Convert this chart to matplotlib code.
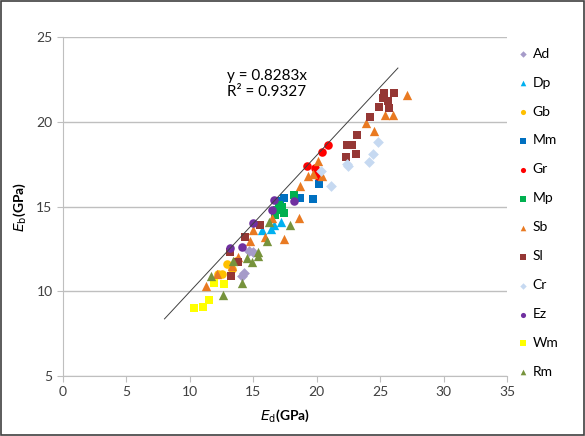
import matplotlib
matplotlib.use("Agg")
import matplotlib.pyplot as plt
from matplotlib.patches import Rectangle

plt.rcParams['font.family'] = ['Lato', 'DejaVu Sans']

# rock groups: Ed (x) and Eb (y), GPa
ad_x = [14.1, 14.3, 14.7, 15.0]
ad_y = [10.9, 11.1, 12.4, 12.3]
dp_x = [15.7, 16.4, 16.6, 17.2]
dp_y = [13.6, 13.7, 13.9, 14.1]
gb_x = [12.25, 12.5, 12.9, 13.3, 13.6]
gb_y = [11.0, 11.0, 11.6, 11.3, 11.8]
mm_x = [17.1, 17.4, 18.7, 19.7, 20.2]
mm_y = [15.3, 15.5, 15.5, 15.45, 16.3]
gr_x = [19.2, 19.9, 20.0, 20.1, 20.4, 20.9]
gr_y = [17.4, 17.3, 17.0, 16.8, 18.2, 18.6]
mp_x = [16.7, 16.9, 17.0, 17.25, 17.4, 18.2]
mp_y = [14.5, 14.8, 15.1, 15.0, 14.6, 15.7]
sb_x = [11.3, 12.1, 13.3, 13.8, 14.75, 15.0, 15.9, 16.5, 17.4, 18.6, 18.7,
        19.35, 19.7, 20.4, 20.1, 23.9, 24.5, 25.4, 26.0, 27.1]
sb_y = [10.3, 11.0, 11.5, 12.0, 12.95, 13.6, 13.2, 14.3, 13.1, 14.3, 16.2,
        16.8, 16.9, 16.8, 17.7, 19.9, 19.45, 20.4, 20.4, 21.6]
sl_x = [13.2, 13.25, 13.8, 14.35, 15.5, 22.3, 22.4, 22.8, 23.1, 23.2, 24.2,
        24.9, 25.2, 25.3, 25.6, 25.7, 26.1]
sl_y = [12.3, 10.9, 11.7, 13.2, 13.9, 17.9, 18.6, 18.6, 18.1, 19.2, 20.3,
        20.9, 21.4, 21.7, 21.2, 20.8, 21.7]
cr_x = [20.3, 21.1, 22.4, 22.5, 24.1, 24.4, 24.8]
cr_y = [17.1, 16.2, 17.5, 17.4, 17.6, 18.1, 18.8]
ez_x = [13.2, 14.1, 15.0, 16.5, 16.6, 18.2]
ez_y = [12.55, 12.6, 14.0, 14.8, 15.4, 15.3]
wm_x = [10.3, 11.0, 11.5, 11.9, 12.7]
wm_y = [9.0, 9.1, 9.5, 10.5, 10.45]
rm_x = [11.7, 12.6, 13.4, 14.1, 14.5, 14.9, 15.4, 15.4, 16.1, 16.2, 17.9]
rm_y = [10.9, 9.8, 11.8, 10.5, 11.95, 11.7, 12.3, 12.1, 12.95, 14.1, 13.9]

# trend line as drawn
line_x = [8.0, 26.4]
line_y = [8.37, 23.17]

series = [
    ("Ad", ad_x, ad_y, "D", "#A69BC9", 30),
    ("Dp", dp_x, dp_y, "^", "#00B0F0", 45),
    ("Gb", gb_x, gb_y, "o", "#FFC000", 38),
    ("Mm", mm_x, mm_y, "s", "#0070C0", 38),
    ("Gr", gr_x, gr_y, "o", "#FF0000", 38),
    ("Mp", mp_x, mp_y, "s", "#00B050", 38),
    ("Sb", sb_x, sb_y, "^", "#E97A22", 45),
    ("Sl", sl_x, sl_y, "s", "#953735", 38),
    ("Cr", cr_x, cr_y, "D", "#C6D9F1", 30),
    ("Ez", ez_x, ez_y, "o", "#7030A0", 38),
    ("Wm", wm_x, wm_y, "s", "#FFFF00", 38),
    ("Rm", rm_x, rm_y, "^", "#77933C", 45),
]

fig = plt.figure(figsize=(5.85, 4.36), dpi=100)
ax = fig.add_axes([0.1077, 0.1376, 0.759, 0.7775])

for name, xs, ys, mk, col, s in series:
    ax.scatter(xs, ys, marker=mk, s=s, color=col, linewidths=0, label=name, zorder=3)

ax.plot(line_x, line_y, color="#404040", lw=0.7, zorder=4)

ax.text(12.95, 21.35, "y = 0.8283x\nR² = 0.9327", fontsize=11, color="black",
        va="bottom", ha="left", linespacing=1.15)

ax.set_xlim(0, 35)
ax.set_ylim(5, 25)
ax.set_xticks(range(0, 36, 5))
ax.set_yticks(range(5, 26, 5))
ax.grid(axis="y", color="#BFBFBF", lw=1)
ax.set_axisbelow(True)
for side in ["top", "right"]:
    ax.spines[side].set_visible(False)
for side in ["left", "bottom"]:
    ax.spines[side].set_color("#BFBFBF")
ax.tick_params(colors="#BFBFBF", labelcolor="#404040", labelsize=10, length=4)

ax.set_xlabel(r"$\bf{\it{E}}_\mathrm{d}$(GPa)", fontsize=10, fontweight="bold", labelpad=6)
ax.set_ylabel(r"$\bf{\it{E}}_\mathrm{b}$(GPa)", fontsize=10, fontweight="bold", labelpad=6)

ax.legend(loc="upper left", bbox_to_anchor=(1.005, 0.985), frameon=False,
          fontsize=10, labelspacing=1.22, handletextpad=0.1, markerscale=0.6,
          handlelength=1.2, borderaxespad=0)

fig.patches.append(Rectangle((0.002, 0.002), 0.996, 0.996, transform=fig.transFigure,
                             fill=False, edgecolor="#404040", lw=1.2))

fig.savefig("out.png", dpi=100)
